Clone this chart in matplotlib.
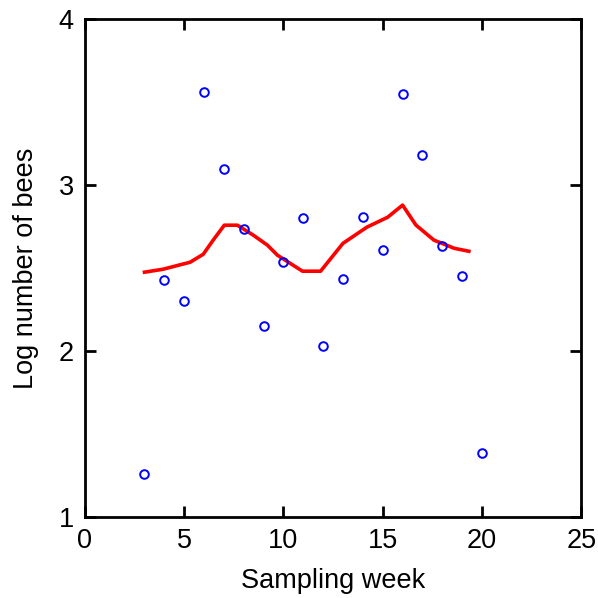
import matplotlib
matplotlib.use("Agg")
import matplotlib.pyplot as plt

# observed log counts per sampling week
weeks = [3, 4, 5, 6, 7, 8, 9, 10, 11, 12, 13, 14, 15, 16, 17, 18, 19, 20]
log_bees = [1.26, 2.43, 2.30, 3.56, 3.10, 2.735, 2.15, 2.535, 2.80, 2.03,
            2.435, 2.81, 2.61, 3.55, 3.18, 2.635, 2.455, 1.39]

# smoothed trend (red line)
trend_x = [3.0, 3.94, 5.3, 5.96, 6.46, 7.02, 7.68, 8.48, 9.19, 9.7, 10.96,
           11.87, 13.0, 14.2, 15.25, 16.0, 16.67, 17.58, 18.6, 19.34]
trend_y = [2.476, 2.494, 2.536, 2.584, 2.669, 2.759, 2.759, 2.699, 2.639, 2.578,
           2.482, 2.482, 2.65, 2.747, 2.807, 2.88, 2.76, 2.669, 2.62, 2.602]

x_ticks = [0, 5, 10, 15, 20, 25]
y_ticks = [1, 2, 3, 4]

plt.rcParams['font.family'] = ['Liberation Sans', 'DejaVu Sans']

fig = plt.figure(figsize=(5.98, 5.98), dpi=100)
ax = fig.add_axes([0.142, 0.135, 0.830, 0.833])

ax.plot(trend_x, trend_y, color='#ff0000', lw=2.6, zorder=2)
ax.plot(weeks, log_bees, 'o', ms=6.2, mfc='none', mec='#0000ff', mew=1.4, zorder=3)

ax.set_xlim(0, 25)
ax.set_ylim(1, 4)
ax.set_xticks(x_ticks)
ax.set_yticks(y_ticks)
ax.tick_params(direction='in', length=8, width=2, top=True, right=True,
               labelsize=19.5, pad=8, color='black')
for s in ax.spines.values():
    s.set_linewidth(2)

ax.set_xlabel('Sampling week', fontsize=19.5, labelpad=10)
ax.set_ylabel('Log number of bees', fontsize=19.5, labelpad=14)

fig.savefig('out.png', dpi=100)
